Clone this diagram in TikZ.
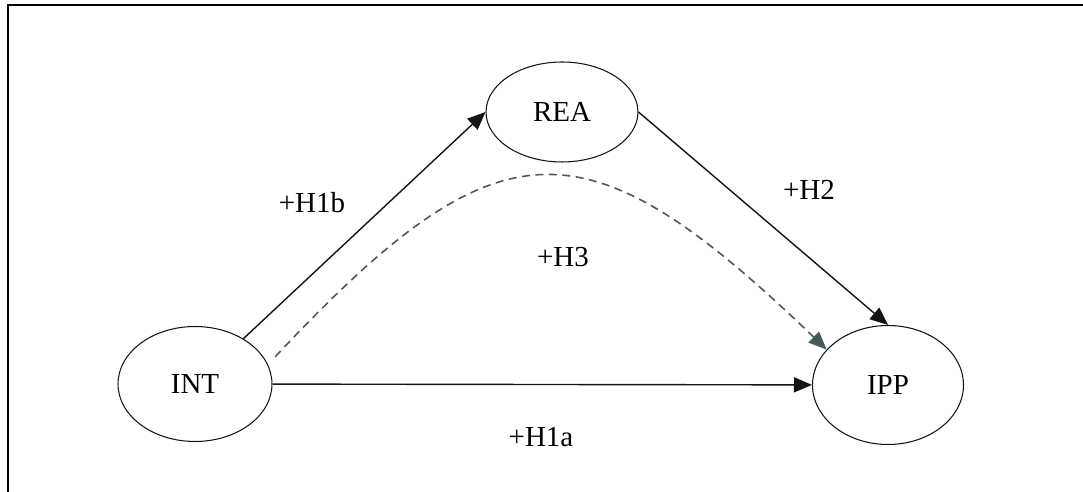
\documentclass[tikz,border=0pt]{standalone}
\usepackage{fontspec}
\setmainfont{Liberation Serif}
\usepackage{tikz}
\usetikzlibrary{shapes.geometric, arrows.meta, positioning}
\definecolor{mydark}{RGB}{20,20,20}
\definecolor{mydash}{RGB}{70,90,90}
\tikzset{
  construct/.style={ellipse, draw=mydark, fill=white, inner sep=0pt,
    font=\fontsize{16.5}{19}\selectfont, line width=0.6pt},
  hyp/.style={font=\fontsize{16.5}{19}\selectfont, inner sep=0pt},
  arrow/.style={-{Triangle[length=3.6mm, width=3mm]}, line width=0.8pt, color=mydark},
  dasharrow/.style={-{Triangle[length=3.6mm, width=3mm]}, line width=0.9pt,
    color=mydash, dash pattern=on 1.6mm off 1.1mm},
  frame/.style={line width=1.4pt, color=black}
}

\begin{document}
\begin{tikzpicture}[x=0.02cm, y=-0.02cm]
  \useasboundingbox (0,0) rectangle (1083,492);
  % Frame (cut at right and bottom)
  \draw[frame] (1083,5) -- (8,5) -- (8,492);

  % Constructs
  \node[construct, minimum width=3.08cm, minimum height=2.3cm] (int) at (195,384) {INT};
  \node[construct, minimum width=3.04cm, minimum height=2.0cm] (rea) at (562,112) {REA};
  \node[construct, minimum width=3.02cm, minimum height=2.38cm] (ipp) at (888,385) {IPP};

  % Paths
  \draw[arrow] (int) -- (rea.west);
  \draw[arrow] (rea.east) -- (ipp.north);
  \draw[arrow] (int) -- (ipp);
  \draw[dasharrow, shorten <=6pt] (int.15) .. controls (500,117) and (585,117) .. (ipp.150);

  % Hypotheses
  \node[hyp] (h1b) at (312,203) {+H1b};
  \node[hyp] (h2) at (809,190) {+H2};
  \node[hyp] (h3) at (563,257) {+H3};
  \node[hyp] (h1a) at (541,437) {+H1a};
\end{tikzpicture}
\end{document}
